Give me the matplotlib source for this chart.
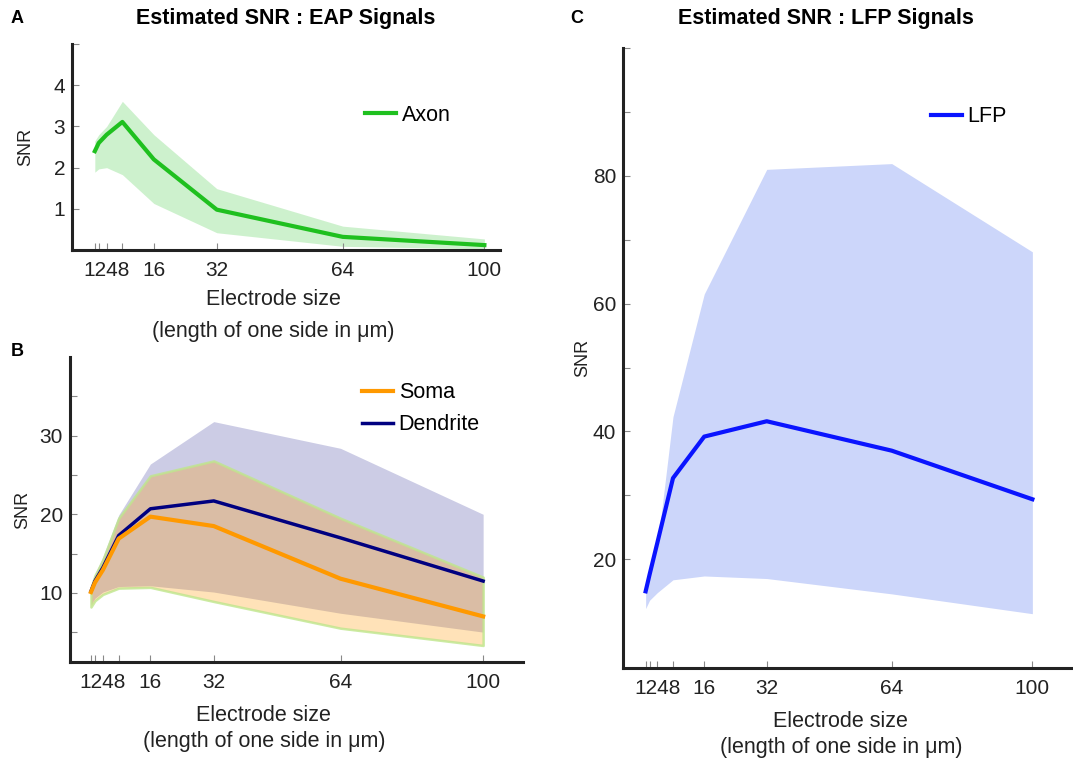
import numpy as np
import matplotlib.pyplot as plt

plt.rcParams['font.family'] = ['Liberation Sans', 'DejaVu Sans']

# electrode sizes (um)
sizes = [1, 2, 4, 8, 16, 32, 64, 100]
size_labels = ['', '', '1248', '', '16', '32', '64', '100']

# panel A : axon
axon_mean = [2.40, 2.60, 2.80, 3.11, 2.20, 0.98, 0.32, 0.12]
axon_hi = [2.65, 2.80, 3.00, 3.61, 2.80, 1.49, 0.58, 0.27]
axon_lo = [1.89, 1.97, 2.00, 1.83, 1.13, 0.42, 0.09, 0.03]

# panel B : soma / dendrite
soma_mean = [10.1, 11.3, 12.9, 16.9, 19.7, 18.5, 11.8, 7.0]
soma_hi = [10.6, 12.2, 14.2, 19.5, 24.9, 26.8, 19.5, 12.0]
soma_lo = [8.2, 9.0, 9.8, 10.6, 10.7, 8.9, 5.5, 3.3]
dend_mean = [10.2, 11.5, 13.2, 17.3, 20.7, 21.7, 17.0, 11.5]
dend_hi = [10.7, 12.4, 14.6, 19.9, 26.4, 31.8, 28.4, 20.0]
dend_lo = [8.5, 9.3, 10.1, 10.8, 10.9, 10.1, 7.4, 5.0]

# panel C : LFP
lfp_mean = [15.0, 17.6, 22.6, 32.7, 39.2, 41.6, 37.0, 29.4]
lfp_hi = [15.5, 17.5, 22.0, 42.3, 61.5, 81.0, 81.9, 68.1]
lfp_lo = [12.3, 13.6, 14.8, 16.8, 17.4, 17.0, 14.6, 11.5]

fs = 15
fig = plt.figure(figsize=(10.73, 7.6), dpi=100)

def style_ax(ax, xlim, ylim, yticks, ylabels, ypad, xlab_x, xpad, lsp):
    for s in ['top', 'right']:
        ax.spines[s].set_visible(False)
    for s in ['left', 'bottom']:
        ax.spines[s].set_linewidth(2.2)
        ax.spines[s].set_color('#222222')
    ax.set_xlim(*xlim)
    ax.set_ylim(*ylim)
    ax.set_xticks(sizes)
    ax.set_xticklabels(size_labels)
    ax.set_yticks(yticks)
    ax.set_yticklabels(ylabels)
    ax.tick_params(direction='in', length=5, width=0.8, color='#888888',
                   labelsize=fs, labelcolor='#222222')
    ax.tick_params(axis='x', pad=8)
    ax.tick_params(axis='y', pad=5)
    ax.set_xlabel('Electrode size\n(length of one side in μm)', fontsize=15.5,
                  color='#222222', labelpad=xpad, linespacing=lsp)
    ax.xaxis.label.set_x(xlab_x)
    ax.set_ylabel('SNR', fontsize=13, color='#222222', labelpad=ypad)

# A
axA = fig.add_axes([0.0671, 0.671, 0.399, 0.271])
axA.fill_between(sizes, axon_lo, axon_hi, color='#1fc01f', alpha=0.22, lw=0)
axA.plot(sizes, axon_mean, color='#1fc01f', lw=3, label='Axon')
style_ax(axA, (-4.8, 104), (0, 5), [1, 2, 3, 4, 5], ['1', '2', '3', '4', ''],
         14, 0.47, 6.5, 1.65)
axA.legend(loc='center left', bbox_to_anchor=(0.685, 0.655), frameon=False,
           fontsize=15.5, handlelength=1.45, handletextpad=0.25, borderpad=0,
           borderaxespad=0)

# B
axB = fig.add_axes([0.0652, 0.129, 0.422, 0.401])
axB.fill_between(sizes, dend_lo, dend_hi, color='#000080', alpha=0.2, lw=0)
axB.fill_between(sizes, soma_lo, soma_hi, facecolor=(1.0, 0.6, 0.0, 0.28),
                 edgecolor=(0.75, 0.9, 0.55, 0.8), lw=1.8)
axB.plot(sizes, dend_mean, color='#000080', lw=2.5, label='Dendrite')
axB.plot(sizes, soma_mean, color='#ff9900', lw=3, label='Soma')
style_ax(axB, (-4.3, 110), (1.2, 40), [5, 10, 15, 20, 25, 30, 35],
         ['', '10', '', '20', '', '30', ''], 6, 0.428, 9, 1.33)
h, l = axB.get_legend_handles_labels()
axB.legend(h[::-1], l[::-1], loc='center left', bbox_to_anchor=(0.645, 0.831),
           frameon=False, fontsize=15.5, handlelength=1.45, handletextpad=0.25,
           borderpad=0, borderaxespad=0, labelspacing=0.5)

# C
axC = fig.add_axes([0.5806, 0.121, 0.4194, 0.816])
axC.fill_between(sizes, lfp_lo, lfp_hi, color='#ccd6fa', lw=0)
axC.plot(sizes, lfp_mean, color='#0a14ff', lw=3, label='LFP')
style_ax(axC, (-4.8, 110.4), (3, 100), [20, 30, 40, 50, 60, 70, 80, 90, 100],
         ['20', '', '40', '', '60', '', '80', '', ''], 1, 0.484, 9, 1.33)
axC.legend(loc='center left', bbox_to_anchor=(0.684, 0.889), frameon=False,
           fontsize=15.5, handlelength=1.45, handletextpad=0.25, borderpad=0,
           borderaxespad=0)

# titles and panel letters
fig.text(0.266, 0.976, 'Estimated SNR : EAP Signals', fontsize=15.5,
         fontweight='bold', ha='center', va='center')
fig.text(0.770, 0.976, 'Estimated SNR : LFP Signals', fontsize=15.5,
         fontweight='bold', ha='center', va='center')
fig.text(0.010, 0.976, 'A', fontsize=13, fontweight='bold', va='center')
fig.text(0.010, 0.537, 'B', fontsize=13, fontweight='bold', va='center')
fig.text(0.531, 0.976, 'C', fontsize=13, fontweight='bold', va='center')

fig.savefig('out.png', dpi=100)
